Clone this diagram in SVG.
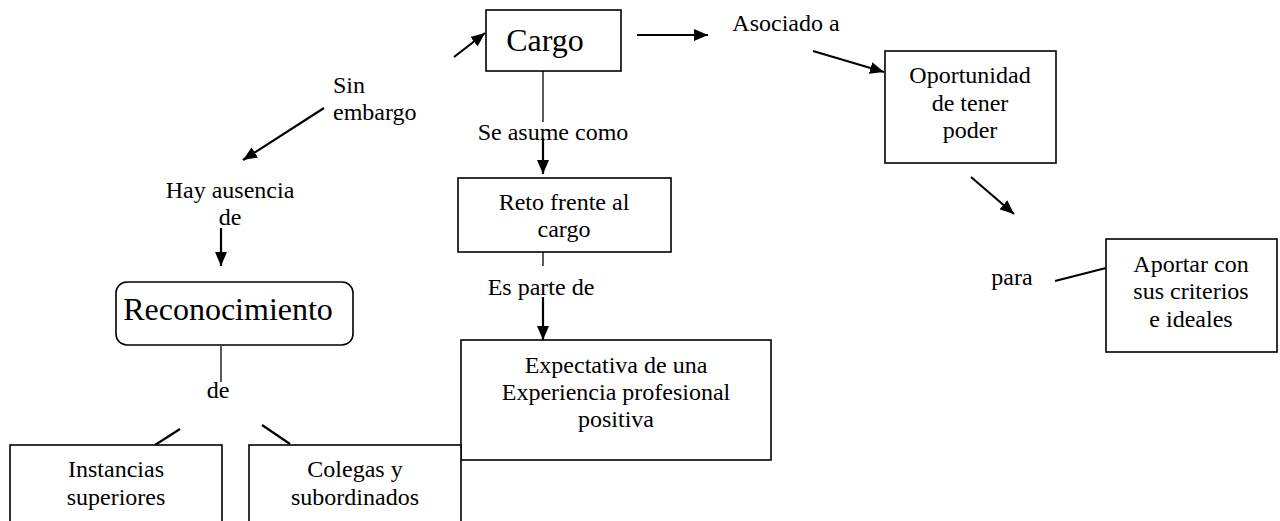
<svg xmlns="http://www.w3.org/2000/svg" width="1280" height="521" viewBox="0 0 1280 521" font-family="'Liberation Serif', 'Times New Roman', 'DejaVu Serif', serif">
<defs>
<marker id="ah" viewBox="0 0 14 12" refX="14" refY="6" markerWidth="14" markerHeight="12" markerUnits="userSpaceOnUse" orient="auto">
<path d="M0,0 L14,6 L0,12 z" fill="#000"/>
</marker>
<style>
text{font-family:'Liberation Serif','Times New Roman','DejaVu Serif',serif;fill:#000;text-anchor:middle;font-size:24px}
.big{font-size:32px}
.box{fill:#fff;stroke:#000;stroke-width:1.6}
.arr{stroke:#000;stroke-width:2.2;fill:none;marker-end:url(#ah)}
.ln{stroke:#000;stroke-width:2.2;fill:none}
.thin{stroke:#000;stroke-width:1.3;fill:none}
</style>
</defs>
<rect width="1280" height="521" fill="#fff"/>

<g id="connectors">
<line class="arr" x1="454" y1="57" x2="485" y2="33"/>
<line class="arr" x1="637" y1="35" x2="708" y2="35"/>
<line class="arr" x1="813" y1="51" x2="884" y2="72"/>
<line class="arr" x1="324" y1="108" x2="243" y2="160"/>
<line class="thin" x1="543" y1="71" x2="543" y2="122"/>
<line class="arr" x1="543" y1="138" x2="543" y2="174"/>
<line class="arr" x1="221" y1="228" x2="221" y2="266"/>
<line class="thin" x1="543" y1="232" x2="543" y2="266"/>
<line class="arr" x1="543" y1="297" x2="543" y2="340"/>
<line class="thin" x1="221" y1="346" x2="221" y2="382"/>
<line class="ln" x1="180" y1="429" x2="155" y2="445"/>
<line class="ln" x1="262" y1="425" x2="290" y2="444"/>
<line class="arr" x1="971" y1="177" x2="1014" y2="214"/>
<line class="ln" x1="1055" y1="281" x2="1106" y2="268"/>
</g>

<g id="lbl-asociado"><text x="786" y="31">Asociado a</text></g>
<g id="lbl-sinembargo"><text x="333" y="93" style="text-anchor:start">Sin</text><text x="333" y="120" style="text-anchor:start">embargo</text></g>
<g id="lbl-seasume"><text x="553" y="140">Se asume como</text></g>
<g id="lbl-hay"><text x="230" y="198">Hay ausencia</text><text x="230" y="225">de</text></g>
<g id="lbl-esparte"><text x="541" y="295">Es parte de</text></g>
<g id="lbl-de"><text x="218" y="398">de</text></g>
<g id="lbl-para"><text x="1012" y="285">para</text></g>

<g id="n-cargo">
<rect class="box" x="486" y="10" width="135" height="61"/>
<text class="big" x="545" y="51">Cargo</text>
</g>

<g id="n-oportunidad">
<rect class="box" x="885" y="51" width="171" height="112"/>
<text x="970" y="83">Oportunidad</text>
<text x="970" y="111">de tener</text>
<text x="970" y="138">poder</text>
</g>

<g id="n-reto">
<rect class="box" x="458" y="178" width="213" height="74"/>
<text x="564" y="210">Reto frente al</text>
<text x="564" y="237">cargo</text>
</g>

<g id="n-reconocimiento">
<rect class="box" x="116" y="282" width="237" height="63" rx="11" ry="11"/>
<text class="big" x="228" y="320">Reconocimiento</text>
</g>

<g id="n-aportar">
<rect class="box" x="1106" y="239" width="171" height="113"/>
<text x="1191" y="272">Aportar con</text>
<text x="1191" y="299">sus criterios</text>
<text x="1191" y="327">e ideales</text>
</g>

<g id="n-expectativa">
<rect class="box" x="461" y="340" width="310" height="120"/>
<text x="616" y="373">Expectativa de una</text>
<text x="616" y="400">Experiencia profesional</text>
<text x="616" y="427">positiva</text>
</g>

<g id="n-instancias">
<rect class="box" x="10" y="445" width="212" height="90"/>
<text x="116" y="477">Instancias</text>
<text x="116" y="505">superiores</text>
</g>

<g id="n-colegas">
<rect class="box" x="249" y="445" width="212" height="90"/>
<text x="355" y="477">Colegas y</text>
<text x="355" y="505">subordinados</text>
</g>
</svg>
